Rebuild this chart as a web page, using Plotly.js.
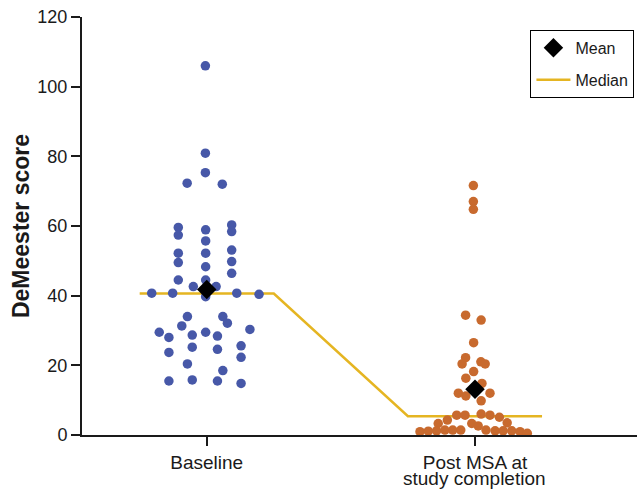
<!DOCTYPE html>
<html>
<head>
<meta charset="utf-8">
<script src="https://cdn.plot.ly/plotly-3.0.1.min.js"></script>
<style>html,body{margin:0;padding:0;background:#fff;}#chart{width:637px;height:491px;}</style>
</head>
<body>
<div id="chart"></div>
<script>
// Categories (x positions 0 and 1) and tick labels (first line / second line)
var categories = [0, 1];
var tickLabels = ["Baseline", "Post MSA at"];
var tickLabels2 = ["", "study completion"];

// Baseline: swarm offsets and DeMeester scores
var baselineOffset = [
  -0.005, -0.005, -0.005, -0.073, 0.058,
  -0.106, -0.106, -0.106, -0.106, -0.106,
  -0.004, -0.004, -0.004, -0.004, -0.004, -0.004,
  0.093, 0.093, 0.093, 0.093, 0.093,
  -0.050, 0.035,
  -0.205, -0.127, 0.112, 0.195,
  -0.072, 0.060, -0.093, 0.077, -0.177, -0.141, -0.054, -0.004, 0.040, 0.161,
  -0.141, -0.054, 0.040, 0.128, 0.128, -0.072, 0.060,
  -0.141, -0.054, 0.040, 0.128
];
var baselineScore = [
  106.0, 80.9, 75.3, 72.3, 72.0,
  59.6, 57.4, 52.2, 49.5, 44.5,
  58.9, 55.7, 52.2, 48.3, 44.5, 39.7,
  60.3, 58.4, 53.1, 49.8, 46.4,
  42.6, 42.6,
  40.7, 40.7, 40.7, 40.4,
  34.0, 34.0, 31.3, 32.1, 29.5, 28.0, 28.7, 29.5, 28.4, 30.3,
  23.7, 25.2, 24.6, 25.6, 22.3, 20.4, 18.5,
  15.5, 15.8, 15.5, 14.8
];

// Post MSA: swarm offsets and DeMeester scores
var postOffset = [
  -0.006, -0.006, -0.006,
  -0.035, 0.023, -0.005,
  -0.035, -0.048, 0.022, 0.038, -0.005,
  -0.034, 0.026, -0.062, -0.034, 0.056, 0.023,
  -0.068, -0.037, 0.023, 0.056, 0.091, -0.103, 0.120, -0.137, -0.012, 0.012,
  -0.205, -0.174, -0.143, -0.112, -0.083, -0.053, 0.041, 0.075, 0.105, 0.137, 0.168, 0.195
];
var postScore = [
  71.6, 67.0, 64.8,
  34.4, 33.0, 26.5,
  22.2, 20.4, 21.0, 20.4, 18.2,
  16.3, 14.8, 12.0, 11.2, 12.0, 9.8,
  5.7, 5.7, 6.0, 5.7, 5.1, 4.3, 3.5, 3.3, 3.3, 2.6,
  0.95, 1.1, 1.2, 1.4, 1.4, 1.4, 1.4, 1.2, 1.2, 1.2, 0.95, 0.5
];

// Summary statistics
var meanValues = [41.8, 13.1];
var medianValues = [40.6, 5.4];
var medianHalfWidth = 0.25;

var medianX = [], medianY = [];
categories.forEach(function (c, i) {
  medianX.push(c - medianHalfWidth, c + medianHalfWidth);
  medianY.push(medianValues[i], medianValues[i]);
});

var baseX = baselineOffset.map(function (o) { return categories[0] + o; });
var postX = postOffset.map(function (o) { return categories[1] + o; });

var traces = [
  { type: "scatter", mode: "lines", x: medianX, y: medianY, name: "Median",
    line: { color: "#e5b522", width: 2.5 }, legendrank: 2, legendgroup: "med", hoverinfo: "skip" },
  { type: "scatter", mode: "markers", x: baseX, y: baselineScore, showlegend: false,
    marker: { color: "#4758a8", size: 9.5 } },
  { type: "scatter", mode: "markers", x: postX, y: postScore, showlegend: false,
    marker: { color: "#c86a2e", size: 9.5 } },
  { type: "scatter", mode: "markers", x: categories, y: meanValues, name: "Mean",
    marker: { color: "#000", symbol: "diamond", size: 15 }, legendrank: 1, legendgroup: "mean" }
];

var annotations = [];
categories.forEach(function (c, i) {
  if (tickLabels2[i]) {
    annotations.push({
      x: c, xref: "x", y: 0, yref: "paper", yanchor: "top", xanchor: "center",
      yshift: -31, showarrow: false, text: tickLabels2[i],
      font: { size: 19, color: "#1a1a1a" }
    });
  }
});

var layout = {
  width: 637, height: 491,
  margin: { l: 82, r: 0, t: 17, b: 56 },
  paper_bgcolor: "#fff", plot_bgcolor: "#fff",
  font: { family: "Liberation Sans, Arial, sans-serif", color: "#1a1a1a" },
  showlegend: true,
  legend: {
    x: 0.808, xanchor: "left", y: 0.969, yanchor: "top",
    bordercolor: "#000", borderwidth: 1, bgcolor: "#fff",
    font: { size: 16, color: "#1a1a1a" },
    traceorder: "grouped", tracegroupgap: 8, itemwidth: 34
  },
  annotations: annotations,
  xaxis: {
    range: [-0.465, 1.604], tickmode: "array", tickvals: categories, ticktext: tickLabels,
    showgrid: false, zeroline: false, showline: true, linecolor: "#1a1a1a", linewidth: 2,
    ticks: "outside", ticklen: 9, tickwidth: 2, tickcolor: "#1a1a1a",
    tickfont: { size: 19, color: "#1a1a1a" }, fixedrange: true
  },
  yaxis: {
    range: [0, 120], tickvals: [0, 20, 40, 60, 80, 100, 120],
    showgrid: false, zeroline: false, showline: true, linecolor: "#1a1a1a", linewidth: 2,
    ticks: "outside", ticklen: 9, tickwidth: 2, tickcolor: "#1a1a1a",
    tickfont: { size: 18, color: "#1a1a1a" },
    title: { text: "<b>DeMeester score</b>", font: { size: 23, color: "#1a1a1a" }, standoff: 1 },
    fixedrange: true
  }
};

Plotly.newPlot("chart", traces, layout, { displayModeBar: false, staticPlot: true });
</script>
</body>
</html>
